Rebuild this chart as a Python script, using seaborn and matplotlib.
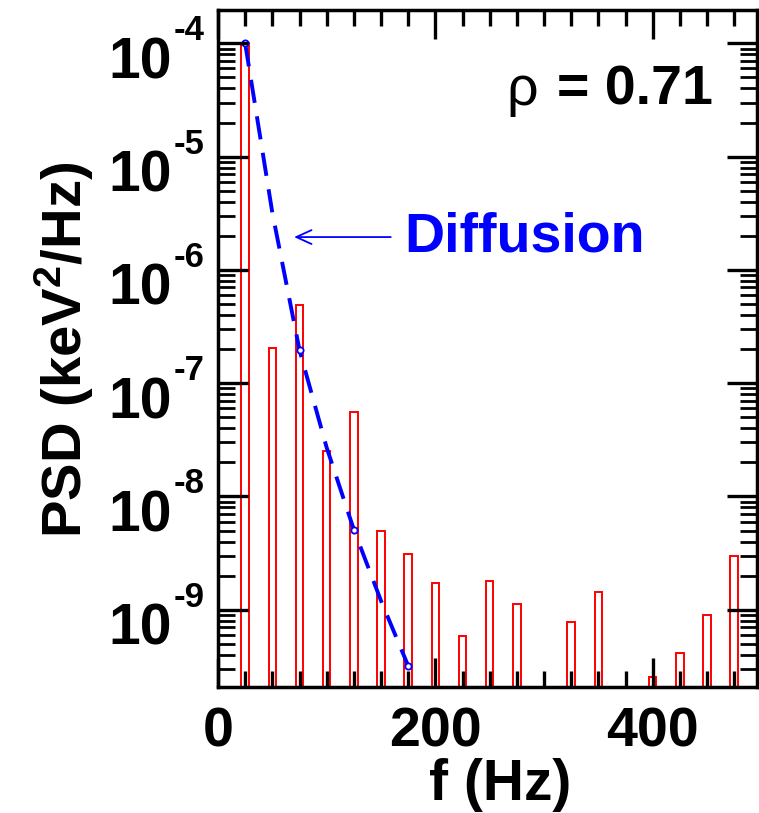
import numpy as np
import pandas as pd
import matplotlib
matplotlib.use("Agg")
import matplotlib.pyplot as plt
import matplotlib.ticker as mticker
from matplotlib.transforms import offset_copy
import seaborn as sns

# ---------------- data ----------------
bar_f = [25, 50, 75, 100, 125, 150, 175, 200, 225, 250, 275, 325, 350, 400, 425, 450, 475]
bar_psd = [1.0e-4, 2.03e-7, 4.9e-7, 2.5e-8, 5.6e-8, 4.97e-9, 3.1e-9, 1.71e-9, 5.9e-10,
           1.81e-9, 1.12e-9, 7.8e-10, 1.42e-9, 2.57e-10, 4.13e-10, 9.0e-10, 2.99e-9]

diff_f = [25, 50, 75, 100, 125, 150, 175]
diff_psd = [1.0e-4, 3.2e-6, 1.96e-7, 2.7e-8, 5.1e-9, 1.2e-9, 3.2e-10]

ytick_exps = [-9, -8, -7, -6, -5, -4]
xtick_labels = ["0", "200", "400"]

# ---------------- style ----------------
sns.set_style("ticks")
plt.rcParams["font.family"] = ["Liberation Sans", "DejaVu Sans"]
plt.rcParams["font.weight"] = "bold"
plt.rcParams["text.color"] = "black"
plt.rcParams["axes.labelcolor"] = "black"
plt.rcParams["xtick.color"] = "black"
plt.rcParams["ytick.color"] = "black"
plt.rcParams["mathtext.fontset"] = "custom"
plt.rcParams["mathtext.rm"] = "Liberation Sans:bold"
plt.rcParams["mathtext.bf"] = "Liberation Sans:bold"
plt.rcParams["mathtext.it"] = "Liberation Sans:bold"

fig = plt.figure(figsize=(7.59, 8.13), dpi=100)
ax = fig.add_axes([218 / 759, 1 - 687 / 813, (757 - 218) / 759, (687 - 10) / 813])

df_bars = pd.DataFrame({"f": bar_f, "psd": bar_psd})
sns.barplot(data=df_bars, x="f", y="psd", native_scale=True, width=7 / 25,
            fill=False, color="red", linewidth=1.4, errorbar=None, ax=ax)

df_diff = pd.DataFrame({"f": diff_f, "psd": diff_psd})
sns.lineplot(data=df_diff, x="f", y="psd", ax=ax, color="blue", lw=2.8,
             linestyle=(0, (6, 3.5)), marker="o", markevery=2, ms=4.5,
             mfc="white", mec="blue", mew=1.3, errorbar=None)

ax.set_yscale("log")
ax.set_xlim(0, 496)
ax.set_ylim(2.08e-10, 1.97e-4)

# spines
for s in ax.spines.values():
    s.set_linewidth(2.5)
    s.set_color("black")
ax.set_axisbelow(False)

# x ticks
ax.xaxis.set_major_locator(mticker.FixedLocator([0, 200, 400]))
ax.xaxis.set_major_formatter(mticker.FixedFormatter(xtick_labels))
ax.xaxis.set_minor_locator(mticker.MultipleLocator(25))
ax.tick_params(axis="x", which="major", direction="in", length=21, width=2.4,
               top=True, bottom=True, labelsize=40, pad=14, colors="black")
ax.tick_params(axis="x", which="minor", direction="in", length=11.5, width=2.4,
               top=True, bottom=True, colors="black")

# y ticks
ax.yaxis.set_major_locator(mticker.LogLocator(base=10, numticks=20))
ax.yaxis.set_minor_locator(mticker.LogLocator(base=10, subs=np.arange(2, 10), numticks=20))
ax.yaxis.set_major_formatter(mticker.NullFormatter())
ax.yaxis.set_minor_formatter(mticker.NullFormatter())
ax.tick_params(axis="y", which="major", direction="in", length=21.5, width=2.4,
               left=True, right=True, colors="black")
ax.tick_params(axis="y", which="minor", direction="in", length=12, width=2.0,
               left=True, right=True, colors="black")

for lab in ax.get_xticklabels():
    lab.set_fontweight("bold")
    lab.set_color("black")

# manual y tick labels 10^n
ytrans = ax.get_yaxis_transform()
base_tr = offset_copy(ytrans, fig=fig, y=-35, units="dots")
sup_tr = offset_copy(ytrans, fig=fig, y=3, units="dots")
for e in ytick_exps:
    yv = 10.0 ** e
    ax.text(-0.0853, yv, "10", transform=base_tr, ha="right", va="baseline",
            fontsize=41, fontweight="bold", color="black", clip_on=False)
    ax.text(-0.0816, yv, f"-{-e}", transform=sup_tr, ha="left", va="baseline",
            fontsize=25, fontweight="bold", color="black", clip_on=False)

# axis labels
ax.set_xlabel("f (Hz)", fontsize=41, fontweight="bold", color="black")
ax.xaxis.label.set_va("baseline")
ax.xaxis.set_label_coords(0.523, -0.167)
ax.set_ylabel("PSD (keV$^{2}$/Hz)", fontsize=40.5, fontweight="bold", color="black")
ax.yaxis.label.set_va("baseline")
ax.yaxis.set_label_coords(-0.2523, 0.4985)

# annotations
ax.annotate("", xy=(70, 1.95e-6), xytext=(159, 1.95e-6),
            arrowprops=dict(arrowstyle="->,head_length=1.1,head_width=0.5",
                            color="blue", lw=1.3, shrinkA=0, shrinkB=0))
ax.text(171.5, 1.44e-6, "Diffusion", color="blue", fontsize=40, fontweight="bold",
        ha="left", va="baseline")

ax.text(0.9184, 0.8597, "= 0.71", transform=ax.transAxes, ha="right", va="baseline",
        fontsize=40, fontweight="bold", color="black")
ax.text(0.5343, 0.8597, "ρ", transform=ax.transAxes, ha="left", va="baseline",
        fontsize=40, fontweight="normal", color="black")

fig.savefig("out.png", dpi=100)
